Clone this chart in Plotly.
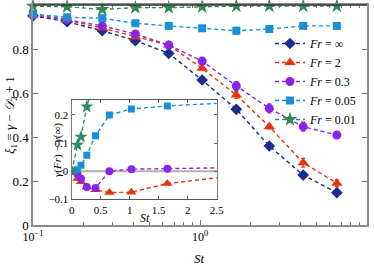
import plotly.graph_objects as go

# ---------------- data ----------------
st = [0.1, 0.16, 0.26, 0.41, 0.65, 1.03, 1.65, 2.6, 4.15, 6.6]

xi_inf = [0.951, 0.924, 0.883, 0.838, 0.780, 0.659, 0.526, 0.359, 0.227, 0.147]
xi_2 = [0.955, 0.932, 0.895, 0.855, 0.818, 0.712, 0.591, 0.447, 0.283, 0.190]
xi_03 = [0.955, 0.934, 0.905, 0.868, 0.818, 0.745, 0.632, 0.530, 0.447, 0.409]
xi_005 = [0.959, 0.944, 0.940, 0.917, 0.905, 0.894, 0.883, 0.891, 0.905, 0.905]
xi_001 = [0.995, 0.992, 0.980, 0.988, 0.988, 0.992, 0.995, 0.995, 0.995, 0.995]

err_inf = [0, 0, 0, 0, 0, 0, 0.008, 0.012, 0.010, 0.012]
err_2 = [0, 0, 0, 0, 0, 0, 0.015, 0.010, 0.020, 0.015]
err_03 = [0, 0, 0, 0, 0, 0, 0.020, 0.020, 0.020, 0.010]
err_005 = [0, 0, 0, 0, 0, 0, 0.015, 0, 0, 0]
err_001 = [0] * 10

st_in = [0, 0.1, 0.16, 0.26, 0.41, 0.65, 1.03, 1.65, 2.6]
d_2 = [0.004, -0.026, -0.038, -0.056, -0.066, -0.076, -0.075, -0.044, -0.021]
d_03 = [0.0, -0.010, -0.027, -0.056, -0.060, 0.0, 0.007, 0.009, 0.012]
d_005 = [0.0, 0.005, 0.021, 0.057, 0.126, 0.200, 0.221, 0.232, 0.242]
st_in_001 = [0, 0.1, 0.16, 0.26, 0.41]
d_001 = [0.0, 0.093, 0.122, 0.229, 0.34]

labels = ["<i>Fr</i> = ∞", "<i>Fr</i> = 2", "<i>Fr</i> = 0.3",
          "<i>Fr</i> = 0.05", "<i>Fr</i> = 0.01"]
colors = ["#1b2d8f", "#e5330b", "#8a24e8", "#1a8fd8", "#2e8a5c"]
symbols = ["diamond", "triangle-up", "circle", "square", "star"]
msizes = [9, 10, 9, 8, 11]
msizes_in = [8, 9, 8, 7, 10]

main_series = [xi_inf, xi_2, xi_03, xi_005, xi_001]
main_err = [err_inf, err_2, err_03, err_005, err_001]

W, H = 374, 266
FONT = "Liberation Serif, DejaVu Serif, serif"
DASH = "4px,3px"

def px_x(v):
    return v / W

def px_y(v):
    return 1 - v / H

fig = go.Figure()

for ys, er, lab, c, s, ms in zip(main_series, main_err, labels, colors, symbols, msizes):
    fig.add_trace(go.Scatter(
        x=st, y=ys, mode="lines+markers", name=lab,
        line=dict(color=c, width=1.4, dash=DASH),
        marker=dict(symbol=s, size=ms, color=c, line=dict(width=0)),
        error_y=dict(type="data", array=er, visible=True, color=c, thickness=1.3, width=2),
        cliponaxis=False, xaxis="x", yaxis="y",
    ))

inset_series = [(st_in, d_2, 1), (st_in, d_03, 2), (st_in, d_005, 3), (st_in_001, d_001, 4)]
for xs, ys, k in inset_series:
    fig.add_trace(go.Scatter(
        x=xs, y=ys, mode="lines+markers", showlegend=False,
        line=dict(color=colors[k], width=1.4, dash=DASH),
        marker=dict(symbol=symbols[k], size=msizes_in[k], color=colors[k], line=dict(width=0)),
        cliponaxis=True, xaxis="x2", yaxis="y2",
    ))

xd = [px_x(33), px_x(367)]
yd = [px_y(225), px_y(5)]
xd2 = [px_x(71.7), px_x(216.7)]
yd2 = [px_y(199.3), px_y(100)]

minor_vals = [0.2, 0.3, 0.4, 0.5, 0.6, 0.7, 0.8, 0.9, 2, 3, 4, 5, 6, 7, 8, 9]

fig.update_layout(
    width=W, height=H,
    margin=dict(l=0, r=0, t=0, b=0, autoexpand=False),
    paper_bgcolor="white", plot_bgcolor="white",
    font=dict(family=FONT, size=12, color="black"),
    showlegend=True,
    legend=dict(x=px_x(270), y=px_y(29), xanchor="left", yanchor="top",
                xref="container", yref="container",
                bgcolor="rgba(0,0,0,0)", borderwidth=0,
                font=dict(family=FONT, size=12), itemwidth=30,
                tracegroupgap=0),
    xaxis=dict(type="log", range=[-1, 1], domain=xd, anchor="y", automargin=False,
               tickvals=[0.1, 1, 10],
               ticktext=["10<sup>−1</sup>", "10<sup>0</sup>", "10<sup>1</sup>"],
               ticks="inside", ticklen=5, tickcolor="#777",
               minor=dict(tickvals=minor_vals, ticks="inside", ticklen=3, tickcolor="#777"),
               showline=True, linecolor="#8c8c8c", linewidth=1.5, mirror="ticks",
               showgrid=False, zeroline=False,
               tickfont=dict(family=FONT, size=12)),
    yaxis=dict(range=[0, 1], domain=yd, anchor="x", automargin=False,
               tickvals=[0, 0.2, 0.4, 0.6, 0.8, 1],
               ticktext=["0", "0.2", "0.4", "0.6", "0.8", "1"],
               ticks="inside", ticklen=5, tickcolor="#777",
               showline=True, linecolor="#8c8c8c", linewidth=1.5, mirror="ticks",
               showgrid=False, zeroline=False,
               tickfont=dict(family=FONT, size=13)),
    xaxis2=dict(range=[0, 2.5], domain=xd2, anchor="y2", automargin=False,
                tickvals=[0, 0.5, 1, 1.5, 2, 2.5],
                ticktext=["0", "0.5", "1", "1.5", "2", "2.5"],
                ticks="inside", ticklen=3, tickcolor="#666",
                showline=True, linecolor="#555", linewidth=1.3, mirror="ticks",
                showgrid=False, zeroline=False,
                tickfont=dict(family=FONT, size=11)),
    yaxis2=dict(range=[-0.1, 0.253], domain=yd2, anchor="x2", automargin=False,
                tickvals=[-0.1, 0, 0.1, 0.2],
                ticktext=["−0.1", "0", "0.1", "0.2"],
                ticks="inside", ticklen=3, tickcolor="#666",
                showline=True, linecolor="#777", linewidth=1.3, mirror="ticks",
                showgrid=False, zeroline=False,
                tickfont=dict(family=FONT, size=11)),
    shapes=[
        dict(type="rect", xref="paper", yref="paper",
             x0=xd2[0], x1=xd2[1], y0=yd2[0], y1=yd2[1],
             fillcolor="white", line=dict(width=0), layer="below"),
        dict(type="line", xref="x2", yref="y2", x0=0, x1=2.5, y0=0, y1=0,
             line=dict(color="#b0b0b0", width=2), layer="below"),
        dict(type="line", xref="paper", yref="paper", x0=xd[0], x1=xd[1],
             y0=yd[1], y1=yd[1], line=dict(color="#333", width=1.3)),
    ],
    annotations=[
        dict(text="<i>St</i>", xref="paper", yref="paper", x=px_x(199), y=px_y(258),
             xanchor="center", yanchor="middle",
             showarrow=False, font=dict(family=FONT, size=13)),
        dict(text="<i>ξ</i><sub>1</sub> = <i>γ</i> − <i>𝒟</i><sub>2</sub> + 1",
             xref="paper", yref="paper", x=px_x(11), y=px_y(115), textangle=-90,
             xanchor="center", yanchor="middle",
             showarrow=False, font=dict(family=FONT, size=13)),
        dict(text="<i>St</i>", xref="paper", yref="paper", x=px_x(145), y=px_y(218),
             xanchor="center", yanchor="middle",
             showarrow=False, font=dict(family=FONT, size=12)),
        dict(text="<i>γ</i>(<i>Fr</i>) − <i>γ</i>(∞)", xref="paper", yref="paper",
             x=px_x(57), y=px_y(150), textangle=-90,
             xanchor="center", yanchor="middle",
             showarrow=False, font=dict(family=FONT, size=11)),
    ],
)

fig.write_html(
    "out.html",
    config={"displayModeBar": False},
    post_script="document.body.style.margin='0';document.body.style.overflow='hidden';",
)
